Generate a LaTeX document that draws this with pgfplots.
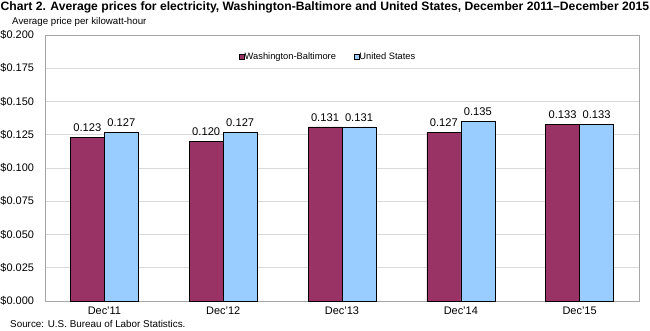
\documentclass[border=0pt]{standalone}
\usepackage{pgfplots}
\pgfplotsset{compat=1.18}
\usepackage{fontspec}
\setmainfont{Liberation Sans}
\definecolor{wb}{HTML}{993366}
\definecolor{us}{HTML}{99CCFF}
\definecolor{gridc}{HTML}{D9D9D9}
\definecolor{framec}{HTML}{A6A6A6}
\begin{document}
\begin{tikzpicture}[x=1bp,y=1bp]
\path[use as bounding box] (0,0) rectangle (650,330);
\node[anchor=north west,inner sep=0pt,font=\bfseries\fontsize{12.2}{14}\selectfont] at (0.5,328.5) {Chart 2. Average prices for electricity, Washington-Baltimore and United States, December 2011--December 2015};
\node[anchor=west,inner sep=0pt,font=\fontsize{9.75}{11}\selectfont] at (12,308.5) {Average price per kilowatt-hour};
\node[anchor=base west,inner sep=0pt,font=\fontsize{9.9}{11}\selectfont] at (10,3) {Source: U.S. Bureau of Labor Statistics.};
\begin{axis}[
  at={(45bp,29bp)}, anchor=south west,
  scale only axis, width=594bp, height=266bp,
  ymin=0, ymax=0.2, ytick={0,0.025,...,0.2},
  xmin=-0.5, xmax=4.5, xtick=data,
  xticklabels={Dec'11,Dec'12,Dec'13,Dec'14,Dec'15},
  ybar, bar width=34bp,
  ymajorgrids, grid style={gridc, line width=0.8pt},
  axis line style={framec},
  major tick length=0pt,
  tick label style={font=\fontsize{11}{13}\selectfont},
  yticklabel style={xshift=-7.5bp},
  xticklabel style={yshift=-2.5bp},
  yticklabel={\$\pgfmathprintnumber[fixed,fixed zerofill,precision=3]{\tick}},
  /pgf/number format/assume math mode=true,
  nodes near coords,
  nodes near coords style={font=\fontsize{11.2}{13}\selectfont, yshift=2bp, /pgf/number format/fixed, /pgf/number format/fixed zerofill, /pgf/number format/precision=3},
  legend style={at={(0.477,0.917)}, anchor=center, draw=none, fill=none, legend columns=2, font=\fontsize{9.35}{11}\selectfont, /tikz/every even column/.append style={column sep=16bp}, /tikz/every odd column/.append style={column sep=-2bp}},
  legend image code/.code={\draw[#1, draw=black, line width=0.4pt] (0bp,-2.5bp) rectangle (5bp,2.5bp);},
  clip=false,
]
\addplot[fill=wb, draw=black, line width=0.5pt, bar shift=-17bp] coordinates {(0,0.123) (1,0.120) (2,0.131) (3,0.127) (4,0.133)};
\addplot[fill=us, draw=black, line width=0.5pt, bar shift=17bp] coordinates {(0,0.127) (1,0.127) (2,0.131) (3,0.135) (4,0.133)};
\legend{Washington-Baltimore, United States}
\end{axis}
\end{tikzpicture}
\end{document}
